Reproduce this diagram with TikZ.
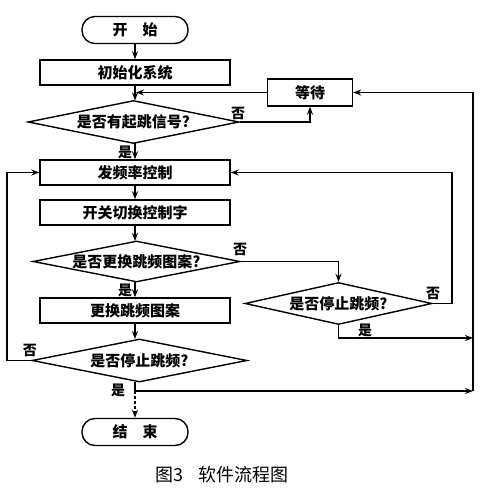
\documentclass[tikz,border=0pt]{standalone}
\usepackage{fontspec}
\setmainfont{Noto Sans CJK SC}
\usetikzlibrary{shapes.geometric,arrows.meta}
\begin{document}
\begin{tikzpicture}[x=1pt,y=-1pt,
  line width=1.4pt,
  >={Stealth[length=8pt,width=6pt]},
  txt/.style={font=\fontsize{15}{17}\selectfont\bfseries},
  term/.style={draw,rounded corners=13pt,minimum width=106pt,minimum height=27pt,inner sep=0pt,txt},
  procbox/.style={draw,minimum width=190pt,minimum height=25pt,inner sep=0pt,txt},
  decis/.style={draw,diamond,aspect=5,inner sep=0pt,txt},
  lbl/.style={font=\fontsize{14}{15}\selectfont\bfseries,inner sep=1pt}]
\useasboundingbox (0,0) rectangle (495,489);
\node[term] (start) at (135,30) {开\hspace{1em}始};
\node[procbox] (init) at (135,72.5) {初始化系统};
\node[procbox,minimum width=85pt,minimum height=27pt] (wait) at (310,92.5) {等待};
\node[decis,minimum width=211pt,minimum height=43pt] (d1) at (133.5,122) {是否有起跳信号?};
\node[procbox] (b1) at (135,172.5) {发频率控制};
\node[procbox] (b2) at (135,212.5) {开关切换控制字};
\node[decis,minimum width=207pt,minimum height=41pt] (d2) at (136.5,261.5) {是否更换跳频图案?};
\node[decis,minimum width=187pt,minimum height=42pt] (d3) at (338.5,303.5) {是否停止跳频?};
\node[procbox] (b3) at (135,310.5) {更换跳频图案};
\node[decis,minimum width=215pt,minimum height=43pt] (d4) at (139.5,360.5) {是否停止跳频?};
\node[term,minimum height=27pt] (end) at (135,432) {结\hspace{1em}束};
\node[font=\fontsize{18}{20}\selectfont,anchor=west,inner sep=0pt] (cap) at (155,475) {图3\hspace{0.8em}软件流程图};
% helper coordinates
\coordinate (ra) at (452,172.5);
\coordinate (rb) at (473,92.5);
\coordinate (j1) at (135,391);
\coordinate (j1r) at (473,391);
\coordinate (j2) at (338.5,338);
\coordinate (j2r) at (473,338);
\coordinate (la) at (7,360.5);
% connectors
\draw[->] (start) -- (init);
\draw[->] (init) -- (135,100.5);
\draw[->] (wait.west) -- (136,92.5);
\draw[->] (d1.east) -| (wait.south);
\node[lbl] at (238,113) {否};
\draw[->] (135,143.5) -- (b1.north);
\node[lbl] at (125,152) {是};
\draw[->] (b1) -- (b2);
\draw[->] (b2.south) -- (135,241);
\draw[->] (135,282) -- (b3.north);
\node[lbl] at (125,290) {是};
\draw[->] (d2.east) -| (d3.north);
\node[lbl] at (240,249) {否};
\draw[->] (d3.east) -| (ra) -- (b1.east);
\node[lbl] at (433,293) {否};
\draw[->] (d3.south) -- (j2) -- (j2r);
\node[lbl] at (365,330) {是};
\draw[->] (b3.south) -- (135,339);
\draw[->] (d4.west) -- (la) |- (b1.west);
\node[lbl] at (30,350) {否};
\draw (135,382) -- (j1);
\draw[->,dashed,line width=1.1pt,dash pattern=on 3pt off 2pt] (j1) -- (end.north);
\draw[->] (j1) -- (j1r);
\node[lbl] at (118,390) {是};
\draw[->] (j1r) -- (rb) -- (wait.east);
\end{tikzpicture}
\end{document}
